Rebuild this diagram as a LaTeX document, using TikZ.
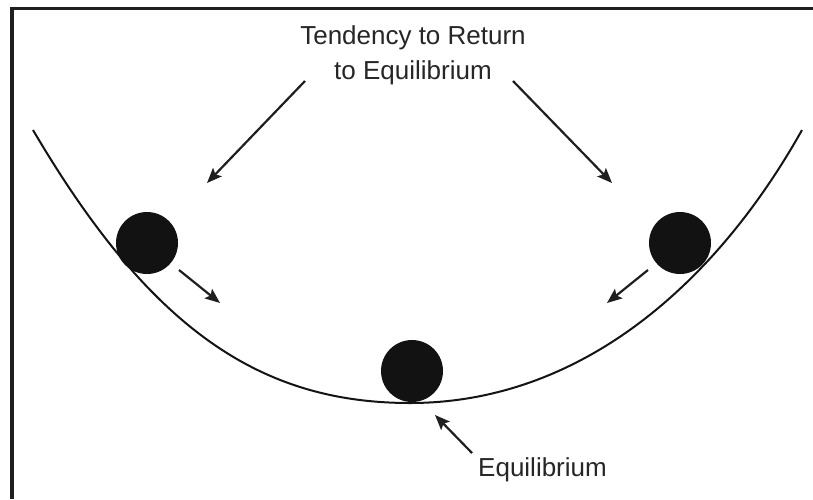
\documentclass[tikz,border=0pt]{standalone}
\usepackage{fontspec}
\setmainfont{Liberation Sans}
\usetikzlibrary{arrows.meta}
\begin{document}
\begin{tikzpicture}[x=1pt,y=-1pt,
  ball/.style={circle,fill=black!93,inner sep=0pt,minimum size=62pt},
  pointer/.style={line width=2.2pt,draw=black!88,-{Stealth[length=15pt,width=12pt,inset=3pt]}},
  lbl/.style={font=\fontsize{26}{35}\selectfont,inner sep=0pt,align=center,text=black!85},
  frameline/.style={line width=3.6pt,draw=black!88},
  bowl/.style={line width=2pt,draw=black!92}]
\useasboundingbox (0,0) rectangle (813,499);
\fill[white] (0,0) rectangle (813,499);
% frame (top and left edges)
\coordinate (fbl) at (12,499);
\coordinate (ftl) at (12,8.5);
\coordinate (ftr) at (813,8.5);
\draw[frameline] (fbl) -- (ftl) -- (ftr);
% bowl
\coordinate (cl) at (33,130);
\coordinate (cb) at (410,403);
\coordinate (cr) at (802,130);
\draw[bowl] (cl) .. controls (150,329) and (260,403) .. (cb)
               .. controls (580,403) and (715,285) .. (cr);
% balls
\node[ball] (bl) at (147,243) {};
\node[ball] (bm) at (412,371) {};
\node[ball] (br) at (680,243) {};
% labels
\node[lbl,anchor=north] (title) at (413,25) {Tendency to Return\\to Equilibrium};
\node[lbl,anchor=base west] (eq) at (478,476) {Equilibrium};
% arrow end points
\coordinate (a1s) at (305,81);  \coordinate (a1e) at (207,183);
\coordinate (a2s) at (513,81);  \coordinate (a2e) at (612,183);
\coordinate (a3s) at (179,270); \coordinate (a3e) at (220,303);
\coordinate (a4s) at (648,270); \coordinate (a4e) at (607,303);
\coordinate (a5s) at (472,453); \coordinate (a5e) at (435,415);
\draw[pointer] (a1s) -- (a1e);
\draw[pointer] (a2s) -- (a2e);
\draw[pointer] (a3s) -- (a3e);
\draw[pointer] (a4s) -- (a4e);
\draw[pointer] (a5s) -- (a5e);
\end{tikzpicture}
\end{document}
